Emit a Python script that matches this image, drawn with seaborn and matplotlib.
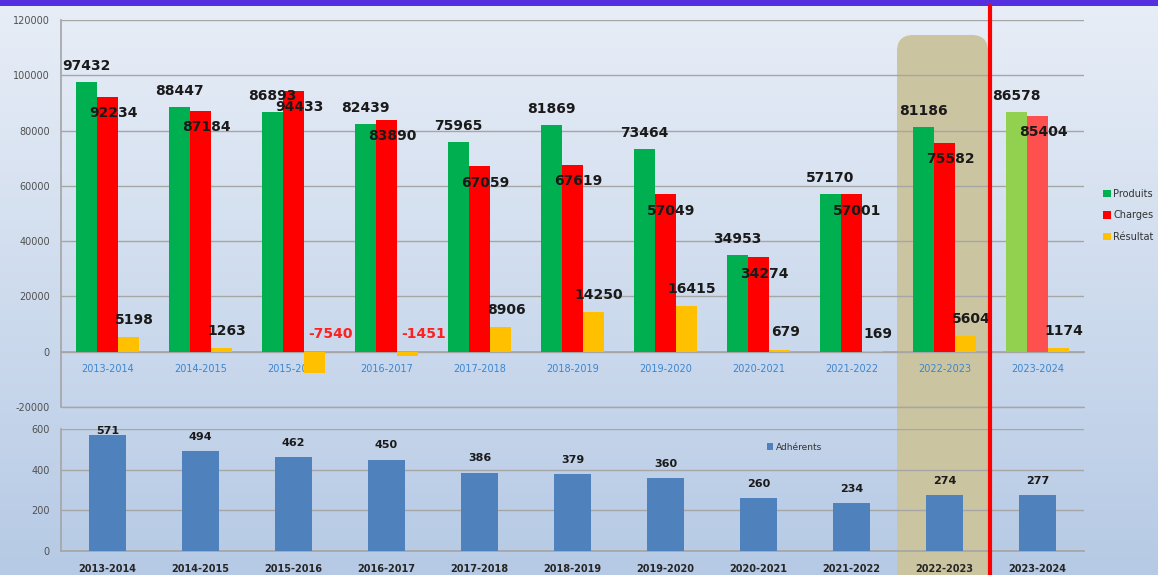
import numpy as np
import pandas as pd
import matplotlib
matplotlib.use("Agg")
import matplotlib.pyplot as plt
from matplotlib.patches import FancyBboxPatch, Patch
import seaborn as sns

saisons = ["2013-2014", "2014-2015", "2015-2016", "2016-2017", "2017-2018",
           "2018-2019", "2019-2020", "2020-2021", "2021-2022", "2022-2023", "2023-2024"]
produits = [97432, 88447, 86893, 82439, 75965, 81869, 73464, 34953, 57170, 81186, 86578]
charges = [92234, 87184, 94433, 83890, 67059, 67619, 57049, 34274, 57001, 75582, 85404]
resultat = [5198, 1263, -7540, -1451, 8906, 14250, 16415, 679, 169, 5604, 1174]
adherents = [571, 494, 462, 450, 386, 379, 360, 260, 234, 274, 277]
series = ["Produits", "Charges", "Résultat"]

sns.set_theme(style="white")
plt.rcParams['font.family'] = ['DejaVu Sans']
plt.rcParams['axes.unicode_minus'] = False

W, H = 1158, 575
fig = plt.figure(figsize=(W / 100, H / 100), dpi=100)

# background gradient
bg = fig.add_axes([0, 0, 1, 1], zorder=-10)
grad = np.linspace(0, 1, 256).reshape(-1, 1)
top_c = np.array([0xE8, 0xEE, 0xF7]) / 255
bot_c = np.array([0xB6, 0xCA, 0xE5]) / 255
img = top_c[None, None, :] * (1 - grad[:, :, None]) + bot_c[None, None, :] * grad[:, :, None]
bg.imshow(img, aspect="auto", extent=[0, 1, 0, 1], origin="upper")
bg.set_xlim(0, 1); bg.set_ylim(0, 1)
bg.axis("off")
# purple band
bg.add_patch(plt.Rectangle((0, 1 - 6 / H), 1, 6 / H, color="#5530E0", lw=0))
# tan highlight box
bg.add_patch(FancyBboxPatch((897 / W, -0.05), 91 / W, (575 - 35) / H + 0.05,
                            boxstyle="round,pad=0,rounding_size=0.014",
                            mutation_aspect=W / H,
                            fc="#CBC4A0", ec="none"))

L = 61 / W
R = 1084 / W
ax1 = fig.add_axes([L, 1 - 407 / H, R - L, (407 - 20) / H])
ax2 = fig.add_axes([L, 1 - 551 / H, R - L, (551 - 429) / H])
for a in (ax1, ax2):
    a.set_facecolor("none")

df = pd.DataFrame({
    "Saison": np.repeat(saisons, 3),
    "Serie": series * len(saisons),
    "Valeur": np.ravel(np.column_stack([produits, charges, resultat])),
})
palette = {"Produits": "#00B050", "Charges": "#FF0000", "Résultat": "#FFC000"}
sns.barplot(data=df, x="Saison", y="Valeur", hue="Serie", hue_order=series,
            order=saisons, palette=palette, width=0.68, saturation=1,
            ax=ax1, legend=False, zorder=3)
# lighter colours for the last season
c_prod, c_char, c_res = ax1.containers[:3]
c_prod[-1].set_facecolor("#92D050")
c_char[-1].set_facecolor("#FF5050")
for c in (c_prod, c_char, c_res):
    for p in c:
        p.set_edgecolor("none")

ax1.set_ylim(-20000, 120000)
ax1.set_yticks(np.arange(-20000, 120001, 20000))
ax1.set_xlim(-0.5, len(saisons) - 0.5)
ax1.grid(axis="y", color="#A6A6A6", lw=1, zorder=0)
ax1.axhline(-20000, color="#A6A6A6", lw=1, clip_on=False, zorder=0)
ax1.set_xlabel(""); ax1.set_ylabel("")
for s in ("top", "right"):
    ax1.spines[s].set_visible(False)
ax1.spines["left"].set_color("#A6A6A6")
ax1.spines["bottom"].set_color("#A6A6A6")
ax1.spines["bottom"].set_position(("data", 0))
ax1.tick_params(axis="y", labelsize=7, colors="#505050", length=4, color="#A6A6A6", pad=4)
ax1.tick_params(axis="x", labelsize=7, labelcolor="#3A86D0", length=0, pad=9)
ax1.set_xticks(np.arange(-0.5, len(saisons), 1), minor=True)
ax1.tick_params(axis="x", which="minor", length=4, color="#A6A6A6", direction="out")

lab_kw = dict(fontsize=10, fontweight="bold", ha="center", va="center", zorder=5)
for p, v in zip(c_prod, produits):
    ax1.annotate(f"{v}", (p.get_x() + p.get_width() / 2, v), xytext=(0, 11.5),
                 textcoords="offset points", color="#1A1A1A", **lab_kw)
for p, v in zip(c_char, charges):
    ax1.annotate(f"{v}", (p.get_x() + p.get_width() / 2, v), xytext=(4, -12),
                 textcoords="offset points", color="#1A1A1A", **lab_kw)
for p, v in zip(c_res, resultat):
    neg = v < 0
    col = "#FF2020" if neg else "#1A1A1A"
    ax1.annotate(f"{v}", (p.get_x() + p.get_width() / 2, max(v, 0)),
                 xytext=(11.5 if neg else 4, 12.5),
                 textcoords="offset points", color=col, **lab_kw)

handles = [Patch(facecolor=palette[s], edgecolor="none") for s in series]
fig.legend(handles, series, loc="upper left", bbox_to_anchor=(1094 / W, 1 - 180 / H),
           frameon=False, fontsize=7, handlelength=0.8, handleheight=0.8,
           handletextpad=0.3, labelspacing=1.2, labelcolor="#333333")

# bottom chart: adherents
df2 = pd.DataFrame({"Saison": saisons, "Adhérents": adherents})
sns.barplot(data=df2, x="Saison", y="Adhérents", order=saisons, color="#4F81BD",
            width=0.4, saturation=1, ax=ax2, zorder=3, label="Adhérents")
for p in ax2.patches:
    p.set_edgecolor("none")
ax2.set_ylim(0, 600)
ax2.set_yticks([0, 200, 400, 600])
ax2.set_xlim(-0.5, len(saisons) - 0.5)
ax2.grid(axis="y", color="#A6A6A6", lw=1, zorder=0)
ax2.set_xlabel(""); ax2.set_ylabel("")
for s in ("top", "right"):
    ax2.spines[s].set_visible(False)
ax2.spines["left"].set_color("#A6A6A6")
ax2.spines["bottom"].set_color("#A6A6A6")
ax2.tick_params(axis="y", labelsize=7, colors="#505050", length=4, color="#A6A6A6", pad=4)
ax2.tick_params(axis="x", labelsize=7, labelcolor="#262626", length=0, pad=9)
for t in ax2.get_xticklabels():
    t.set_fontweight("bold")
ax2.set_xticks(np.arange(-0.5, len(saisons), 1), minor=True)
ax2.tick_params(axis="x", which="minor", length=4, color="#A6A6A6", direction="out")
ymax2 = ax2.get_ylim()[1]
for p, v in zip(ax2.patches, adherents):
    # label above bar, kept inside the plot area (Excel-like)
    ylab = min(v + 0.115 * ymax2, 0.985 * ymax2)
    ax2.text(p.get_x() + p.get_width() / 2, ylab, f"{v}", fontsize=8, fontweight="bold",
             ha="center", va="center", color="#1A1A1A", zorder=5)
ax2.legend(handles=[Patch(facecolor="#4F81BD", edgecolor="none")], labels=["Adhérents"],
           loc="upper left", bbox_to_anchor=(0.682, 0.955), frameon=False, fontsize=6.5,
           handlelength=0.7, handleheight=0.7, handletextpad=0.3, labelcolor="#333333")

# red separator line
overlay = fig.add_axes([0, 0, 1, 1], zorder=30)
overlay.set_xlim(0, 1); overlay.set_ylim(0, 1); overlay.axis("off")
overlay.plot([990 / W, 990 / W], [0, 1 - 6 / H], color="#FF0000", lw=3)

fig.savefig("out.png", dpi=100)
